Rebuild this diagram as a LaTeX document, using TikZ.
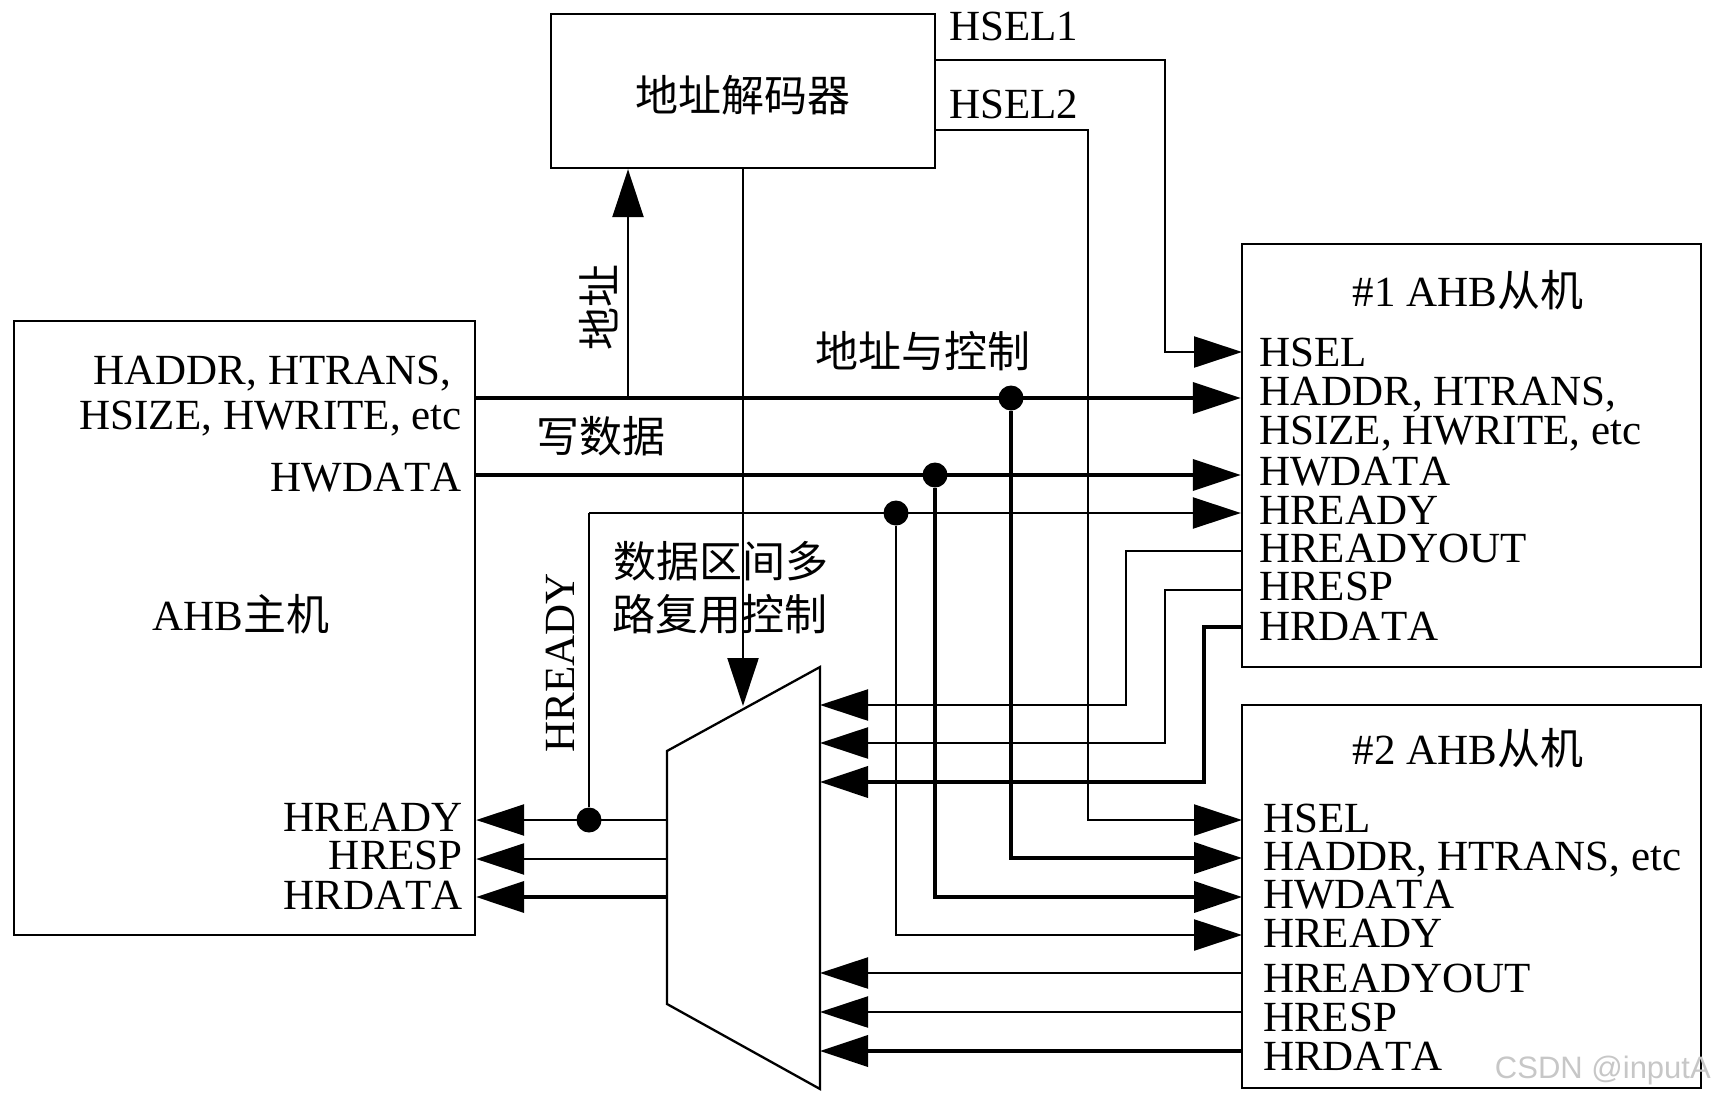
\documentclass[tikz,border=0pt]{standalone}
\usepackage{fontspec}
\setmainfont[Kerning=Off]{Liberation Serif}
\setsansfont{Liberation Sans}
\newfontfamily\cjk{Noto Sans CJK SC}
\usetikzlibrary{arrows.meta,positioning,calc}

\begin{document}
\begin{tikzpicture}[
  x=1pt, y=-1pt,
  font=\fontsize{43}{43}\selectfont,
  box/.style={draw, line width=2.3pt, inner sep=0pt},
  sig/.style={anchor=base west, inner sep=0pt},
  sigr/.style={anchor=base east, inner sep=0pt},
  txt/.style={inner sep=0pt, align=center},
  dot/.style={circle, fill=black, inner sep=0pt, minimum size=25pt},
  wire/.style={line width=2.3pt},
  bus/.style={line width=3.8pt},
  arrow/.style={-{Triangle[length=48pt,width=31pt]}}
]
  \useasboundingbox (0,0) rectangle (1711,1098);

  \node[box, minimum width=384pt, minimum height=154pt] (decoder) at (743,91) {};
  \node[box, minimum width=461pt, minimum height=614pt] (master) at (244.5,628) {};
  \node[box, minimum width=459pt, minimum height=423pt] (slaveA) at (1471.5,455.5) {};
  \node[box, minimum width=459pt, minimum height=383pt] (slaveB) at (1471.5,896.5) {};

  \coordinate (muxtl) at (667,751);
  \coordinate (muxtr) at (820,667);
  \coordinate (muxbr) at (820,1089);
  \coordinate (muxbl) at (667,1004);
  \coordinate (muxsel) at (743,706);
  \draw[wire] (muxtl) -- (muxtr) -- (muxbr) -- (muxbl) -- cycle;

  \node[txt] (declabel) at (743,95) {{\cjk 地址解码器}};
  \node[txt] (masterlabel) at (241,614) {AHB{\cjk 主机}};
  \node[txt] (slaveAlabel) at (1468,290) {\#1 AHB{\cjk 从机}};
  \node[txt] (slaveBlabel) at (1468,748) {\#2 AHB{\cjk 从机}};
  \node[txt, rotate=90] (addrlabel) at (599,307) {{\cjk 地址}};
  \node[txt] (ctrllabel) at (923,351) {{\cjk 地址与控制}};
  \node[txt] (wdatalabel) at (601,436) {{\cjk 写数据}};
  \node[txt, rotate=90] (readylabel) at (560,663) {HREADY};
  \node[txt] (muxlabelA) at (721,561) {{\cjk 数据区间多}};
  \node[txt] (muxlabelB) at (720,614) {{\cjk 路复用控制}};

  \node[sig] (selA) at (949,40) {HSEL1};
  \node[sig] (selB) at (949,118) {HSEL2};

  \node[sigr] (mHaddr) at (451,384) {HADDR, HTRANS,};
  \node[sigr] (mHsize) at (462,429) {HSIZE, HWRITE, etc};
  \node[sigr] (mHwdata) at (462,491) {HWDATA};
  \node[sigr] (mHready) at (463,831) {HREADY};
  \node[sigr] (mHresp) at (463,869) {HRESP};
  \node[sigr] (mHrdata) at (463,909) {HRDATA};

  \node[sig] (aHsel) at (1259,366) {HSEL};
  \node[sig] (aHaddr) at (1259,405) {HADDR, HTRANS,};
  \node[sig] (aHsize) at (1259,444) {HSIZE, HWRITE, etc};
  \node[sig] (aHwdata) at (1259,485) {HWDATA};
  \node[sig] (aHready) at (1259,524) {HREADY};
  \node[sig] (aHout) at (1259,562) {HREADYOUT};
  \node[sig] (aHresp) at (1259,600) {HRESP};
  \node[sig] (aHrdata) at (1259,640) {HRDATA};

  \node[sig] (bHsel) at (1263,832) {HSEL};
  \node[sig] (bHaddr) at (1263,870) {HADDR, HTRANS, etc};
  \node[sig] (bHwdata) at (1263,908) {HWDATA};
  \node[sig] (bHready) at (1263,947) {HREADY};
  \node[sig] (bHout) at (1263,992) {HREADYOUT};
  \node[sig] (bHresp) at (1263,1031) {HRESP};
  \node[sig] (bHrdata) at (1263,1070) {HRDATA};

  \node[dot] (addrdot) at (1011,398) {};
  \node[dot] (wdatadot) at (935,475) {};
  \node[dot] (rdydot) at (896,513) {};
  \node[dot] (backdot) at (589,820) {};

  \coordinate (addrtap) at (628,398);
  \coordinate (selAout) at (935,60);
  \coordinate (selBout) at (935,130);
  \coordinate (selAbend) at (1165,60);
  \coordinate (selBbend) at (1088,130);
  \coordinate (aSelin) at (1242,352);
  \coordinate (bSelin) at (1242,820);
  \coordinate (bAddrin) at (1242,858);
  \coordinate (bDatain) at (1242,897);
  \coordinate (bRdyin) at (1242,935);
  \coordinate (aOut) at (1242,551);
  \coordinate (aResp) at (1242,590);
  \coordinate (aData) at (1242,627);
  \coordinate (muxA) at (820,705);
  \coordinate (muxB) at (820,743);
  \coordinate (muxC) at (820,782);
  \coordinate (muxD) at (820,973);
  \coordinate (muxE) at (820,1012);
  \coordinate (muxF) at (820,1051);
  \coordinate (muxG) at (667,820);
  \coordinate (muxH) at (667,859);
  \coordinate (muxI) at (667,897);
  \coordinate (rdycorner) at (589,513);

  \draw[bus, arrow] (master.east |- addrdot) -- (slaveA.west |- addrdot);
  \draw[bus, arrow] (master.east |- wdatadot) -- (slaveA.west |- wdatadot);
  \draw[wire, arrow] (addrtap) -- (addrtap |- decoder.south);
  \draw[wire, arrow] (decoder.south) -- (muxsel);

  \draw[wire, arrow] (selAout) -- (selAbend) -- (selAbend |- aSelin) -- (aSelin);
  \draw[wire, arrow] (selBout) -- (selBbend) -- (selBbend |- bSelin) -- (bSelin);

  \draw[wire] (backdot) -- (rdycorner);
  \draw[wire, arrow] (rdycorner) -- (slaveA.west |- rdycorner);
  \draw[bus, arrow] (addrdot) -- (addrdot |- bAddrin) -- (bAddrin);
  \draw[bus, arrow] (wdatadot) -- (wdatadot |- bDatain) -- (bDatain);
  \draw[wire, arrow] (rdydot) -- (rdydot |- bRdyin) -- (bRdyin);

  \draw[wire, arrow] (aOut) -- (1126,551) -- (1126,705) -- (muxA);
  \draw[wire, arrow] (aResp) -- (1165,590) -- (1165,743) -- (muxB);
  \draw[bus, arrow] (aData) -- (1204,627) -- (1204,782) -- (muxC);

  \draw[wire, arrow] (slaveB.west |- muxD) -- (muxD);
  \draw[wire, arrow] (slaveB.west |- muxE) -- (muxE);
  \draw[bus, arrow] (slaveB.west |- muxF) -- (muxF);

  \draw[wire, arrow] (muxG) -- (master.east |- muxG);
  \draw[wire, arrow] (muxH) -- (master.east |- muxH);
  \draw[bus, arrow] (muxI) -- (master.east |- muxI);

  \node[inner sep=0pt, anchor=east, text=black!22, font=\fontsize{31}{31}\sffamily] (mark) at (1711,1070) {CSDN @inputA};
\end{tikzpicture}
\end{document}
